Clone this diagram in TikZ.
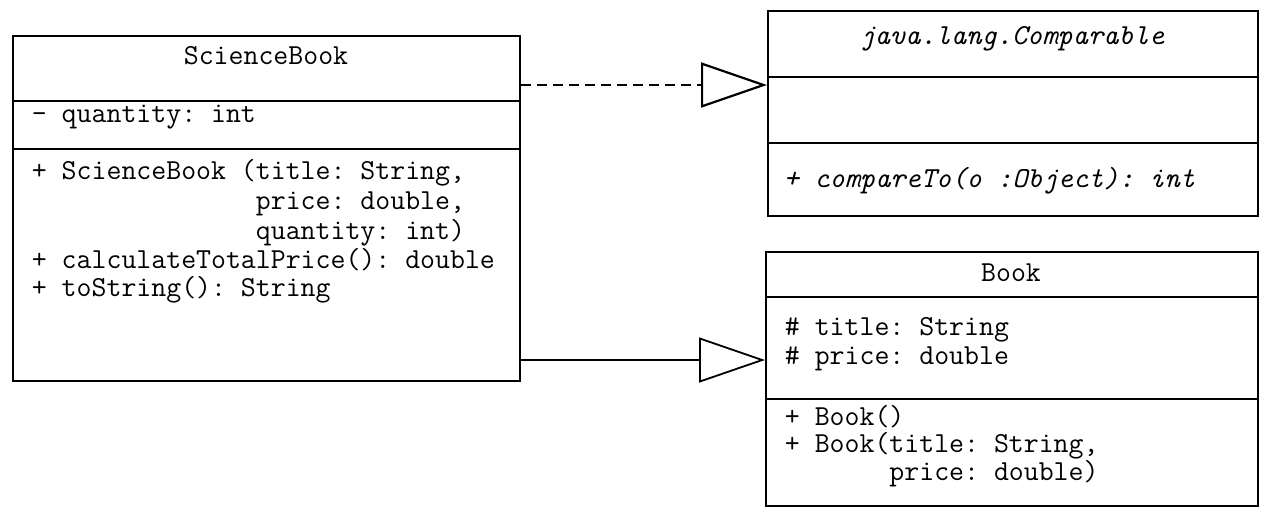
\documentclass[tikz,border=0pt]{standalone}
\usepackage{fontspec}
\usetikzlibrary{arrows.meta}
\frenchspacing
\newcommand\umlfont{\ttfamily\frenchspacing\fontsize{14.5}{16}\selectfont}
\begin{document}
\begin{tikzpicture}[x=0.5pt,y=-0.5pt,
  line width=0.9pt,
  umlbox/.style={draw, rectangle, inner sep=0pt, anchor=north west},
  ttl/.style={inner sep=0pt, anchor=mid, font=\umlfont},
  txt/.style={inner sep=0pt, anchor=mid west, font=\umlfont},
  inherit/.style={-{Triangle[open,length=33pt,width=22.5pt]}},
  realize/.style={inherit, dash pattern=on 5pt off 3pt, line width=1.1pt}]
\fill[white] (0,0) rectangle (1262,511);
\useasboundingbox (0,0) rectangle (1262,511);

% ScienceBook
\node[umlbox, minimum width=253.5pt, minimum height=172.5pt] (sb) at (12,35) {};
\draw (sb.west |- 0,101) -- (sb.east |- 0,101);
\draw (sb.west |- 0,149) -- (sb.east |- 0,149);
\node[ttl] (sbname) at (266,60) {ScienceBook};
\node[txt] (sba1) at (31,118) {- quantity: int};
\node[txt] (sbm1) at (31,175) {+ ScienceBook (title: String,};
\node[txt] (sbm2) at (31,205) {\phantom{+ ScienceBook (}price: double,};
\node[txt] (sbm3) at (31,235) {\phantom{+ ScienceBook (}quantity: int)};
\node[txt] (sbm4) at (31,264) {+ calculateTotalPrice(): double};
\node[txt] (sbm5) at (31,292) {+ toString(): String};

% Comparable
\node[umlbox, minimum width=245pt, minimum height=102.5pt] (cmp) at (767,10) {};
\draw (cmp.west |- 0,77) -- (cmp.east |- 0,77);
\draw (cmp.west |- 0,143) -- (cmp.east |- 0,143);
\node[ttl] (cmpname) at (1012,40) {\itshape java.lang.Comparable};
\node[txt] (cmpm1) at (783,183) {\itshape + compareTo(o :Object): int};

% Book
\node[umlbox, minimum width=246pt, minimum height=127pt] (bk) at (765,251) {};
\draw (bk.west |- 0,297) -- (bk.east |- 0,297);
\draw (bk.west |- 0,399) -- (bk.east |- 0,399);
\node[ttl] (bkname) at (1011,277) {Book};
\node[txt] (bka1) at (784,331) {\# title: String};
\node[txt] (bka2) at (784,360) {\# price: double};
\node[txt] (bkm1) at (784,421) {+ Book()};
\node[txt] (bkm2) at (784,448) {+ Book(title: String,};
\node[txt] (bkm3) at (784,476) {\phantom{+ Book(}price: double)};

% connectors
\draw[realize] (sb.east |- 0,85) -- (cmp.west |- 0,85);
\draw[inherit] (sb.east |- 0,360) -- (bk.west |- 0,360);
\end{tikzpicture}
\end{document}
